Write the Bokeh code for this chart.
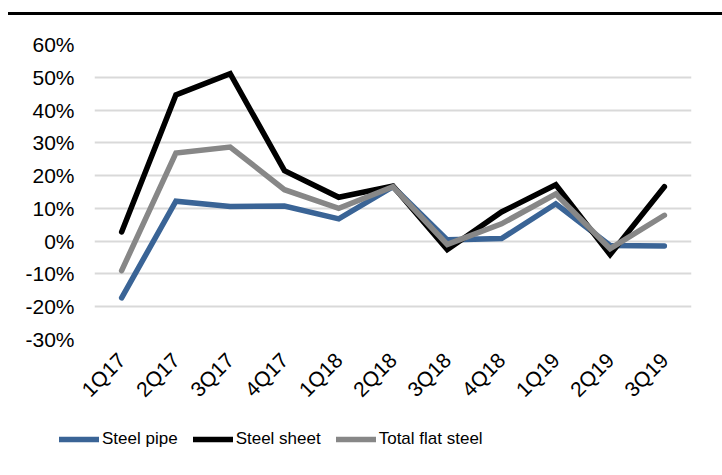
from bokeh.plotting import figure
from bokeh.models import ColumnDataSource, Legend, LegendItem, Range1d, FixedTicker, CustomJSTickFormatter, Div
from bokeh.layouts import column
from bokeh.embed import file_html
from bokeh.resources import INLINE
import math

quarters = ["1Q17", "2Q17", "3Q17", "4Q17", "1Q18", "2Q18", "3Q18", "4Q18", "1Q19", "2Q19", "3Q19"]
steel_pipe = [-17.3, 12.2, 10.6, 10.7, 6.8, 16.6, 0.4, 0.8, 11.4, -1.3, -1.5]
steel_sheet = [2.8, 44.6, 51.1, 21.5, 13.4, 16.8, -2.6, 8.9, 17.2, -4.1, 16.6]
total_flat = [-9.0, 26.9, 28.7, 15.7, 10.0, 16.6, -1.0, 5.3, 14.4, -2.3, 7.9]
series_names = ["Steel pipe", "Steel sheet", "Total flat steel"]
series_colors = ["#3A6496", "#000000", "#878787"]
y_ticks = [-30, -20, -10, 0, 10, 20, 30, 40, 50, 60]

p = figure(frame_width=597, frame_height=295, x_range=quarters, y_range=Range1d(-30, 60),
           output_backend="svg", toolbar_location=None,
           min_border_left=94, min_border_right=31, min_border_top=29, min_border_bottom=0)
p.outline_line_color = None
p.background_fill_color = "white"
p.border_fill_color = "white"

src = ColumnDataSource(dict(q=quarters, pipe=steel_pipe, sheet=steel_sheet, flat=total_flat))
r_pipe = p.line("q", "pipe", source=src, line_color=series_colors[0], line_width=5.5, line_join="miter", line_cap="round")
r_sheet = p.line("q", "sheet", source=src, line_color=series_colors[1], line_width=5.5, line_join="miter", line_cap="round")
r_flat = p.line("q", "flat", source=src, line_color=series_colors[2], line_width=5.5, line_join="miter", line_cap="round")
p.renderers = [r_pipe, r_sheet, r_flat]

p.yaxis.ticker = FixedTicker(ticks=y_ticks)
p.yaxis.formatter = CustomJSTickFormatter(code="return tick.toFixed(0) + '%';")
for axlist in (p.xaxis, p.yaxis):
    axlist.axis_line_color = None
    axlist.major_tick_line_color = None
    axlist.minor_tick_line_color = None
    axlist.major_tick_out = 0
    axlist.major_tick_in = 0
    axlist.major_label_text_font = "Liberation Sans"
    axlist.major_label_text_font_size = "21px"
    axlist.major_label_text_color = "#000000"
p.yaxis.major_label_standoff = 20
p.xaxis.major_label_orientation = math.pi / 4
p.xaxis.major_label_standoff = 17

p.xgrid.grid_line_color = None
p.ygrid.grid_line_color = "#D9D9D9"
p.ygrid.grid_line_width = 2
p.ygrid.ticker = FixedTicker(ticks=y_ticks)

# legend strip
pl = figure(width=722, height=60, x_range=Range1d(0, 1), y_range=Range1d(0, 1),
            output_backend="svg", toolbar_location=None,
            min_border_left=0, min_border_right=0, min_border_top=0, min_border_bottom=0,
            x_axis_type=None, y_axis_type=None)
if "frame_align" in pl.properties():
    pl.frame_align = False
    p.frame_align = False
pl.outline_line_color = None
pl.xgrid.visible = False
pl.ygrid.visible = False
nan = float("nan")
leg_renderers = [pl.line(x=[nan], y=[nan], line_color=c, line_width=5.5, line_cap="round") for c in series_colors]
legend = Legend(items=[LegendItem(label=n, renderers=[r]) for n, r in zip(series_names, leg_renderers)],
                orientation="horizontal", location=(59, 23),
                label_text_font="Liberation Sans", label_text_font_size="17px", label_text_color="#000000",
                glyph_width=40, glyph_height=20, label_standoff=3, spacing=15,
                border_line_color=None, background_fill_alpha=0, padding=0, margin=0)
pl.add_layout(legend, "center")

rule = Div(width=714, height=15, margin=(0, 0, 0, 8),
           styles={"border-bottom": "3px solid black", "box-sizing": "border-box"})

layout = column(rule, p, pl, spacing=0)
open("out.html", "w").write(file_html(layout, INLINE))
